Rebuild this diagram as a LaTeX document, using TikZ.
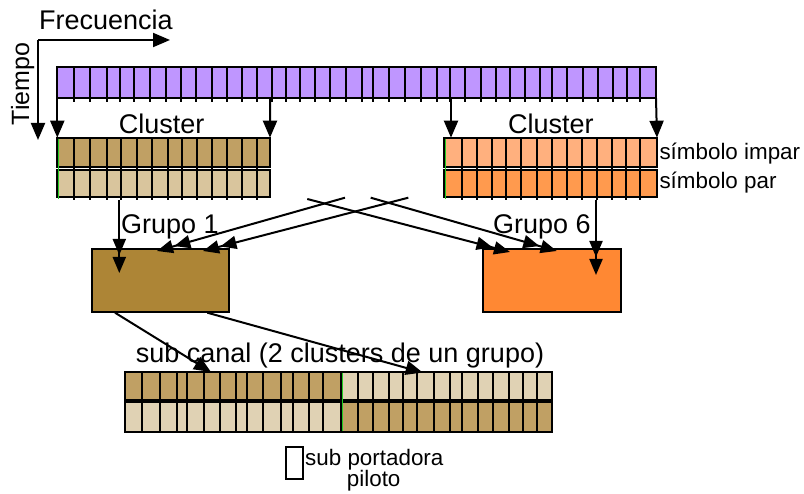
\documentclass[tikz,border=0pt]{standalone}
\usepackage{fontspec}
\setmainfont{Liberation Sans}
\usetikzlibrary{arrows.meta}

\definecolor{lila}{HTML}{BF96FF}
\definecolor{cafeosc}{HTML}{C0A064}
\definecolor{cafeclaro}{HTML}{D9C59D}
\definecolor{cafepalido}{HTML}{E0D2B4}
\definecolor{cafegrupo}{HTML}{AD8536}
\definecolor{naranjaclaro}{HTML}{FFB07E}
\definecolor{naranjamedio}{HTML}{FF9A4E}
\definecolor{naranjagrupo}{HTML}{FF8833}
\definecolor{verde}{HTML}{22CC22}

\begin{document}
\begin{tikzpicture}[x=1pt,y=-1pt,
  bar/.style={draw, line width=2pt, inner sep=0pt, outer sep=0pt, anchor=north west},
  div/.style={line width=2pt},
  edge/.style={line width=0.6pt, verde},
  arr/.style={line width=2pt, -{Triangle[length=17pt,width=14pt]}},
  darr/.style={line width=2pt, -{Triangle[length=16pt,width=13pt,sep=2pt]Triangle[length=16pt,width=13pt]}},
  lbl/.style={font=\fontsize{27}{30}\selectfont, inner sep=0pt},
  small/.style={font=\fontsize{22.4}{26}\selectfont, inner sep=0pt}]

\useasboundingbox (0,0) rectangle (804,494);

% axes
\coordinate (o) at (38,40);
\coordinate (fx) at (170,40);
\coordinate (ty) at (38,140);
\draw[arr] (o) -- (fx);
\draw[arr] (o) -- (ty);
\node[lbl, anchor=base west] (frec) at (39,30) {Frecuencia};
\node[font=\fontsize{25}{28}\selectfont, inner sep=0pt, rotate=90, anchor=base] (tiempo) at (29,84) {Tiempo};

% OFDM symbol (all subcarriers)
\node[bar, fill=lila, minimum width=598.7pt, minimum height=31pt] (sym) at (57.3,67.3) {};
\foreach \x in {74.3,90,106.7,120,134.3,150,166,181,195.7,211.7,226.7,241.7,256.7,271.7,
  285.5,300.3,315,330,346,361.7,372.7,389.3,405,420.7,436.7,450,465,481,496,510,525,540,
  551.7,567.3,582.7,598.3,613.3,627,640}
  \draw[div] (\x,67.3) -- (\x,101.7);

% cluster of group 1
\node[bar, fill=cafeosc, minimum width=212.7pt, minimum height=29.5pt] (c1a) at (57.3,137.7) {};
\node[bar, fill=cafeclaro, minimum width=212.7pt, minimum height=27.3pt] (c1b) at (57.3,169.7) {};
\foreach \x in {74.3,90,106.7,121,136.7,151.7,167.7,181.7,196.7,211.7,226.7,241.7,256.7}
  \draw[div] (\x,137.7) -- (\x,200);
\draw[edge] (58.7,138.7) -- (58.7,199);

% cluster of group 6
\node[bar, fill=naranjaclaro, minimum width=213pt, minimum height=29.5pt] (c6a) at (444,137.7) {};
\node[bar, fill=naranjamedio, minimum width=213pt, minimum height=27.3pt] (c6b) at (444,169.7) {};
\foreach \x in {461.7,476.7,491.7,506,521,536.7,551.7,566.7,581.7,596.7,611.7,625.7,640}
  \draw[div] (\x,137.7) -- (\x,200);
\draw[edge] (445.4,138.7) -- (445.4,199);

\node[lbl, anchor=base] (cl1) at (161.7,133.3) {Cluster};
\node[lbl, anchor=base] (cl6) at (550.8,133.3) {Cluster};
\node[small, anchor=base west] (impar) at (659.3,160) {símbolo impar};
\node[small, anchor=base west] (par) at (659.3,188.5) {símbolo par};

% arrows from the symbol to the clusters
\coordinate (t6) at (451,98.3);
\coordinate (h6) at (451,137.7);
\draw[arr] (sym.south west) -- (c1a.north west);
\draw[arr] ([xshift=212.7pt]sym.south west) -- (c1a.north east);
\draw[arr] (t6) -- (h6);
\draw[arr] (sym.south east) -- (c6a.north east);

% groups
\node[bar, fill=cafegrupo, minimum width=137.6pt, minimum height=62.7pt] (g1) at (91.7,249) {};
\node[bar, fill=naranjagrupo, minimum width=138.3pt, minimum height=62.7pt] (g6) at (482.7,249) {};
\node[lbl, anchor=base] (gr1) at (170,234) {Grupo 1};
\node[lbl, anchor=base] (gr6) at (542,234) {Grupo 6};

\coordinate (d1s) at (119.3,200);
\coordinate (d1e) at (119.3,273);
\coordinate (d6s) at (596,200);
\coordinate (d6e) at (596,275);
\draw[darr] (d1s) -- (d1e);
\draw[darr] (d6s) -- (d6e);

\coordinate (as) at (345,197.7);
\coordinate (ae) at (157,251);
\coordinate (bs) at (408.3,197.7);
\coordinate (be) at (203,251);
\coordinate (cs) at (307.3,199);
\coordinate (ce) at (510,252);
\coordinate (ds) at (370.7,197.7);
\coordinate (de) at (556.7,251);
\draw[darr] (as) -- (ae);
\draw[darr] (bs) -- (be);
\draw[darr] (cs) -- (ce);
\draw[darr] (ds) -- (de);

% sub channel: two clusters of one group
\node[bar, fill=cafeosc, minimum width=216pt, minimum height=28.3pt] (s1l) at (125,371.7) {};
\node[bar, fill=cafepalido, minimum width=211.3pt, minimum height=28.3pt] (s1r) at (341,371.7) {};
\node[bar, fill=cafepalido, minimum width=216pt, minimum height=30pt] (s2l) at (125,401.7) {};
\node[bar, fill=cafeosc, minimum width=211.3pt, minimum height=30pt] (s2r) at (341,401.7) {};
\foreach \x in {142.3,160,176.7,187.3,204,220,236,246.7,263.3,280.7,292.7,309,323.3,
  357.7,373.3,389.3,402.7,416.7,434.3,450,461.7,477.7,493.3,509.3,522.7,536.7}
  \draw[div] (\x,371.7) -- (\x,431.7);
\draw[edge] (342.4,372.7) -- (342.4,430.7);

\node[lbl, anchor=base] (sc) at (340,363) {sub canal (2 clusters de un grupo)};

\coordinate (es) at (115,312.7);
\coordinate (ee) at (211,372);
\coordinate (fs) at (207.3,312.7);
\coordinate (fe) at (422.7,372.5);
\draw[arr] (es) -- (ee);
\draw[arr] (fs) -- (fe);

% legend
\node[bar, fill=white, minimum width=17pt, minimum height=32pt] (pil) at (285.7,447) {};
\node[small, anchor=base west] (sp) at (305,466) {sub portadora};
\node[small, anchor=base west] (pl) at (346.7,486.5) {piloto};
\end{tikzpicture}
\end{document}
